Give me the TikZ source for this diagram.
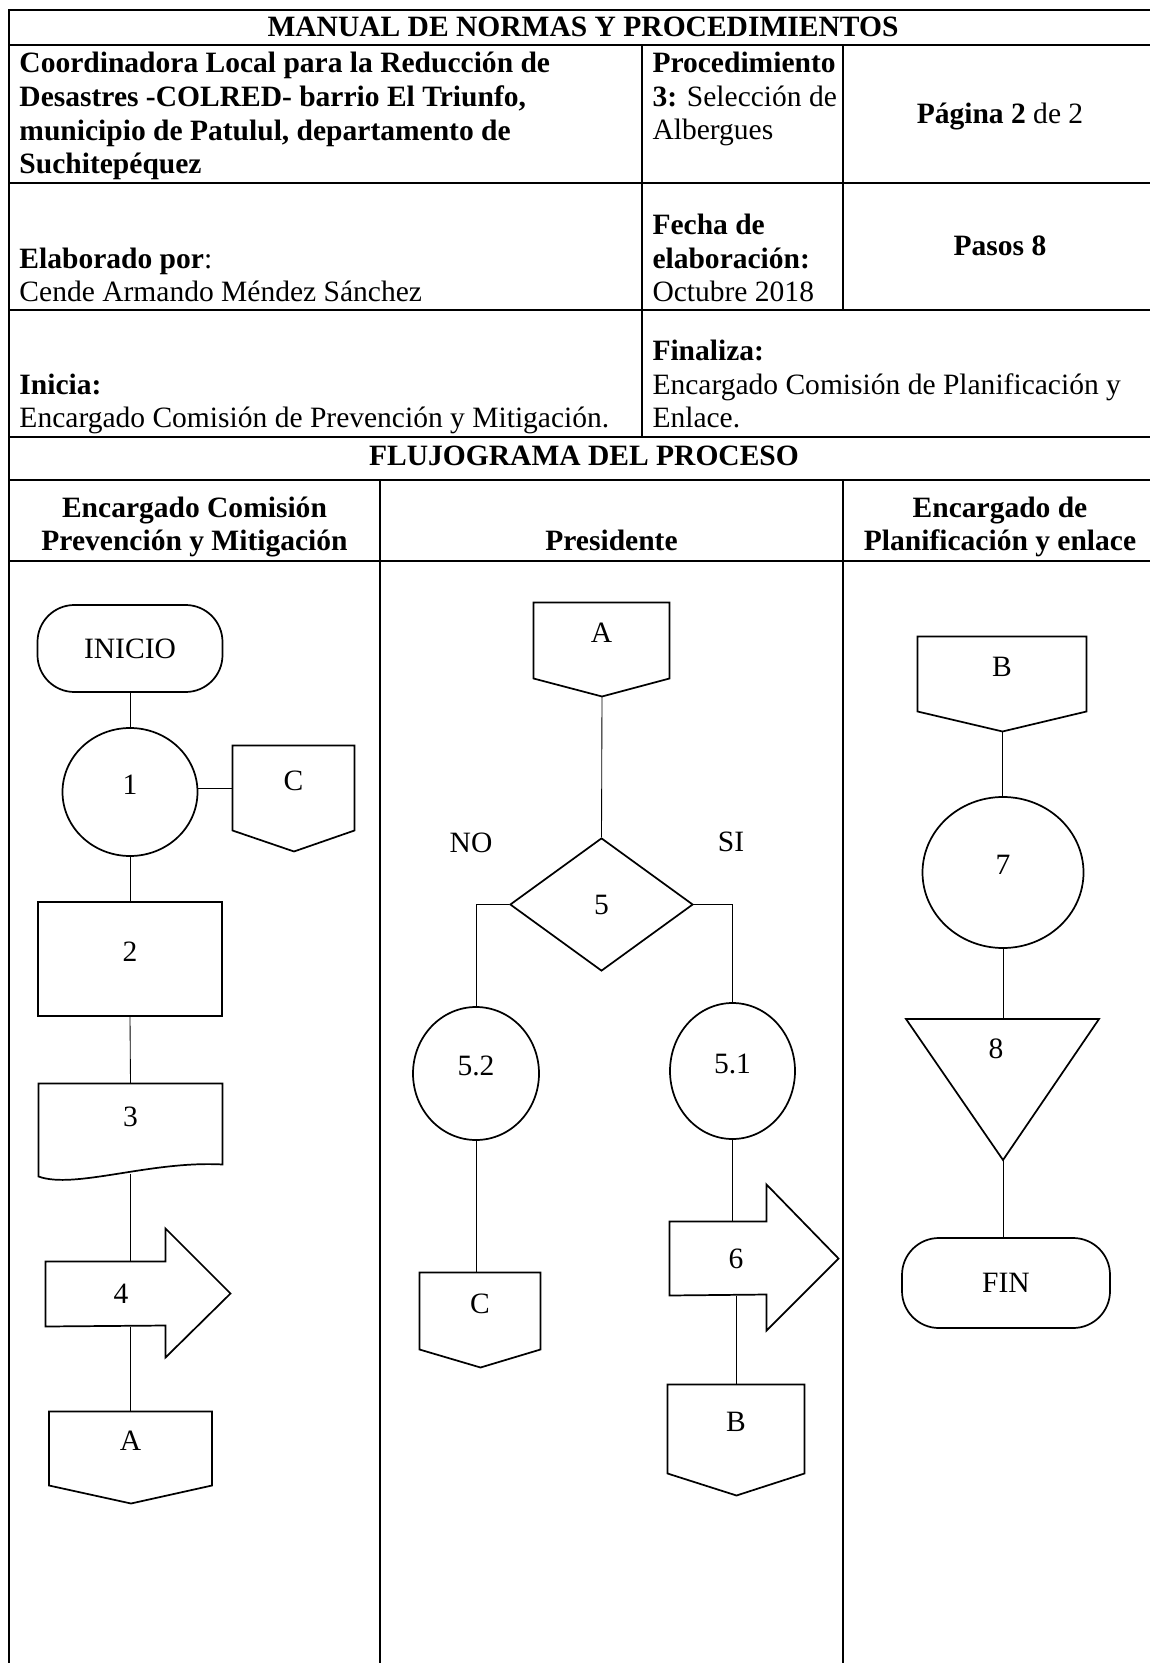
\documentclass[tikz,border=0pt]{standalone}
\usepackage{fontspec}
\setmainfont{Liberation Serif}
\usetikzlibrary{shapes.geometric}
\newcommand{\pxl}{0.4065pt}

\begin{document}
\begin{tikzpicture}[x=0.4065pt,y=-0.4065pt,
  every node/.style={font=\fontsize{12}{13.8}\selectfont, inner sep=0pt},
  negrita/.style={font=\fontsize{12}{13.8}\selectfont\bfseries},
  tabla/.style={line width=0.9pt, line cap=rect},
  forma/.style={draw, line width=0.7pt},
  linea/.style={line width=0.35pt},
  alto/.style={text height=8pt, text depth=6pt},
  circulo/.style={forma, ellipse, alto},
  terminal/.style={forma, rectangle, rounded corners=15pt}]
\useasboundingbox (0,0) rectangle (1149,1663);

% cuadro del encabezado
\draw[tabla] (9,10) -- (1149,10) (9,45) -- (1149,45) (9,183) -- (1149,183)
  (9,310) -- (1149,310) (9,437) -- (1149,437) (9,480) -- (1149,480) (9,561) -- (1149,561);
\draw[tabla] (9,10) -- (9,1663) (642,45) -- (642,437) (843,45) -- (843,310)
  (380,480) -- (380,1663) (843,480) -- (843,1663);

% (base = linea de base de la ultima linea)
\node[negrita, anchor=base] (titulo) at (583,37) {MANUAL DE NORMAS Y PROCEDIMIENTOS};
\node[negrita, anchor=base west, align=left] (colred) at (19,174) {Coordinadora Local para la Reducción de\\Desastres -COLRED- barrio El Triunfo,\\municipio de Patulul, departamento de\\Suchitepéquez};
\node[anchor=base west, align=left] (proc) at (652,140) {\textbf{Procedimiento}\\\textbf{3:} Selección de\\Albergues};
\node[anchor=base] (pag) at (1000,124) {\textbf{Página 2} de 2};
\node[anchor=base west, align=left] (elab) at (19,302) {\textbf{Elaborado por}:\\Cende Armando Méndez Sánchez};
\node[anchor=base west, align=left] (fecha) at (652,302) {\textbf{Fecha de}\\\textbf{elaboración:}\\Octubre 2018};
\node[negrita, anchor=base] (pasos) at (1000,256) {Pasos 8};
\node[anchor=base west, align=left] (inicia) at (19,428) {\textbf{Inicia:}\\Encargado Comisión de Prevención y Mitigación.};
\node[anchor=base west, align=left] (finaliza) at (652,428) {\textbf{Finaliza:}\\Encargado Comisión de Planificación y\\Enlace.};
\node[negrita, anchor=base] (flujo) at (584,466) {FLUJOGRAMA DEL PROCESO};
\node[negrita, anchor=base, align=center] (carril1) at (194.5,551) {Encargado Comisión\\Prevención y Mitigación};
\node[negrita, anchor=base] (carril2) at (611.5,551) {Presidente};
\node[negrita, anchor=base, align=center] (carril3) at (1000,551) {Encargado de\\Planificación y enlace};

% carril 1
\node[terminal, minimum width=185*\pxl, minimum height=87*\pxl] (ini) at (130,648.5) {INICIO};
\node[circulo, minimum width=135*\pxl, minimum height=128*\pxl] (c1) at (130,792) {1};
\node[alto, minimum width=121*\pxl, minimum height=84*\pxl] (C1) at (293.5,788) {C};
\draw[forma] (C1.north west) -- (C1.north east) -- (C1.south east) -- ++(-60.5,21) -- (C1.south west) -- cycle;
\node[forma, alto, minimum width=184*\pxl, minimum height=114*\pxl] (r2) at (130,959) {2};
\node[alto, minimum width=183*\pxl, minimum height=80*\pxl] (d3) at (130.5,1124) {3};
\draw[forma] (d3.north west) -- ++(0,93) .. controls +(36,13) and +(-72,-4) .. (d3.south east) -- (d3.north east) -- cycle;
\node[minimum width=150*\pxl, minimum height=64*\pxl] (f4) at (121,1294) {4};
\draw[forma] (f4.north west) -- ++(120,0) -- ++(0,-33) -- ++(65,65) -- ++(-65,64) -- ++(0,-32) -- (f4.south west) -- cycle;
\node[alto, minimum width=162*\pxl, minimum height=73*\pxl] (A1) at (130.5,1448.5) {A};
\draw[forma] (A1.north west) -- (A1.north east) -- (A1.south east) -- ++(-81,18) -- (A1.south west) -- cycle;

% carril 2
\node[alto, minimum width=135*\pxl, minimum height=75*\pxl] (A2) at (601.5,640.5) {A};
\draw[forma] (A2.north west) -- (A2.north east) -- (A2.south east) -- ++(-67.5,18) coordinate (A2p) -- (A2.south west) -- cycle;
\node[forma, diamond, minimum width=183*\pxl, minimum height=133*\pxl] (d5) at (601.5,904.5) {5};
\node (no) at (471,843) {NO};
\node (si) at (731,842) {SI};
\node[circulo, minimum width=126*\pxl, minimum height=133*\pxl] (c52) at (476,1073.5) {5.2};
\node[circulo, minimum width=125*\pxl, minimum height=136*\pxl] (c51) at (732.5,1071) {5.1};
\node[alto, minimum width=120*\pxl, minimum height=76*\pxl] (C2) at (480,1311) {C};
\draw[forma] (C2.north west) -- (C2.north east) -- (C2.south east) -- ++(-60,18) -- (C2.south west) -- cycle;
\node[minimum width=132*\pxl, minimum height=73*\pxl] (f6) at (736,1258.5) {6};
\draw[forma] (f6.north west) -- ++(97,0) -- ++(0,-37) -- ++(72,74) -- ++(-72,72) -- ++(0,-36) -- (f6.south west) -- cycle;
\node[alto, minimum width=136*\pxl, minimum height=88*\pxl] (B2) at (736,1429) {B};
\draw[forma] (B2.north west) -- (B2.north east) -- (B2.south east) -- ++(-68,22) -- (B2.south west) -- cycle;

% carril 3
\node[alto, minimum width=168*\pxl, minimum height=74*\pxl] (B3) at (1002,674) {B};
\draw[forma] (B3.north west) -- (B3.north east) -- (B3.south east) -- ++(-84,20) coordinate (B3p) -- (B3.south west) -- cycle;
\node[circulo, minimum width=161*\pxl, minimum height=151*\pxl] (c7) at (1003,872.5) {7};
\node (t8) at (996,1049) {8};
\draw[forma] (t8.center) ++(-90,-30) coordinate (t8a) -- ++(193,0) -- ++(-96,141) coordinate (t8b) -- cycle;
\node[terminal, minimum width=208*\pxl, minimum height=90*\pxl] (fin) at (1006,1283) {FIN};

% conectores
\draw[linea] (ini.south) -- (c1.north);
\draw[linea] (c1.east |- C1) -- (C1.west);
\draw[linea] (c1.south) -- (r2.north);
\draw[linea] (r2.south) -- (d3.north);
\draw[linea] ([yshift=-3.7pt]d3.south) -- (d3.south |- f4.north);
\draw[linea] (f4.south -| A1.north) -- (A1.north);
\draw[linea] (A2p) -- (d5.north);
\draw[linea] (d5.west) -| (c52.north);
\draw[linea] (d5.east) -| (c51.north);
\draw[linea] (c52.south) -- (c52.south |- C2.north);
\draw[linea] (c51.south) -- (c51.south |- f6.north);
\draw[linea] (f6.south -| B2.north) -- (B2.north);
\draw[linea] (B3p) -- (B3p |- c7.north);
\draw[linea] (c7.south) -- (c7.south |- t8a);
\draw[linea] (t8b) -- (t8b |- fin.north);
\end{tikzpicture}
\end{document}
